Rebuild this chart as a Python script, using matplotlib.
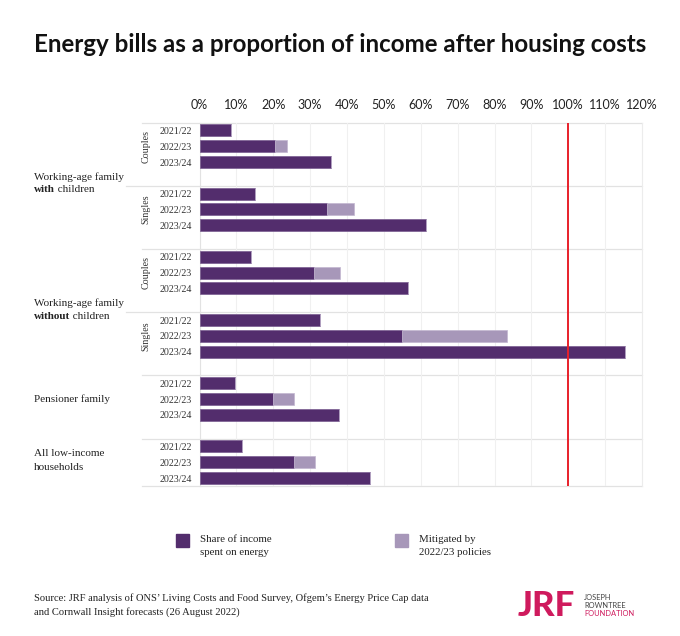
import matplotlib
matplotlib.use("Agg")
import matplotlib.pyplot as plt
from matplotlib.patches import Rectangle
from matplotlib.transforms import blended_transform_factory

# values (% of income after housing costs)
years = ["2021/22", "2022/23", "2023/24"]
block_labels = ["Couples", "Singles", "Couples", "Singles", "", ""]
share = [
    [8.5, 20.6, 35.6],
    [15.0, 34.6, 61.3],
    [14.1, 31.1, 56.5],
    [32.8, 55.0, 115.5],
    [9.7, 19.8, 37.9],
    [11.6, 25.5, 46.3],
]
mitigated = [
    [0, 3.2, 0],
    [0, 7.3, 0],
    [0, 7.1, 0],
    [0, 28.4, 0],
    [0, 5.7, 0],
    [0, 5.9, 0],
]
x_ticks = list(range(0, 121, 10))
tick_labels = [f"{t}%" for t in x_ticks]

DARK = "#532d6d"
LIGHT = "#a797b9"
RED = "#e8202a"
LINE = "#e2e2e2"
MAGENTA = "#cf1a5d"
SERIF = ["Liberation Serif", "DejaVu Serif"]
SANS = ["Lato", "DejaVu Sans"]

W, H = 680, 636
fig = plt.figure(figsize=(W / 100, H / 100), dpi=100)
ax = fig.add_axes([199.5 / W, 1 - 486 / H, 442.5 / W, 363.5 / H])

# bar positions: 4 slots per block, 3 bars + 1 empty
ypos, ylabels, dark_vals, light_vals = [], [], [], []
for b, (vals, mits) in enumerate(zip(share, mitigated)):
    for i, yr in enumerate(years):
        ypos.append(4 * b + i + 0.5)
        ylabels.append(yr)
        dark_vals.append(vals[i])
        light_vals.append(mits[i])

ax.barh(ypos, dark_vals, height=0.76, color=DARK, edgecolor="#7a5c90",
        linewidth=0.5, zorder=3)
ax.barh(ypos, light_vals, left=dark_vals, height=0.76, color=LIGHT,
        edgecolor="#c3b6d0", linewidth=0.5, zorder=3)

ax.axvline(100, color=RED, lw=1.4, zorder=4)

ax.set_xlim(0, 120)
ax.set_ylim(23, 0)
ax.xaxis.tick_top()
ax.set_xticks(x_ticks)
ax.set_xticklabels(tick_labels, family=SANS, fontsize=9, color="#222222")
ax.set_yticks(ypos)
ax.set_yticklabels(ylabels, family=SERIF, fontsize=7.2, color="#333333")
ax.tick_params(axis="both", length=0)
ax.tick_params(axis="x", pad=8)
ax.tick_params(axis="y", pad=5.5)
ax.xaxis.grid(True, color="#f0f0f0", lw=0.8, zorder=0)

for s in ["top", "bottom"]:
    ax.spines[s].set_visible(False)
ax.spines["left"].set_color(LINE)
ax.spines["right"].set_color("#ececec")

# horizontal separators, extending into the label area
yt = ax.get_yaxis_transform()
for y in [0, 4, 8, 12, 16, 20, 23]:
    x0 = -0.166 if y in (4, 12) else -0.13
    ax.plot([x0, 1], [y, y], color=LINE, lw=0.9, transform=yt, clip_on=False,
            zorder=1)

# rotated sub labels
for b, lab in enumerate(block_labels):
    if lab:
        ax.text(-0.121, 4 * b + 1.5, lab, transform=yt, rotation=90,
                ha="center", va="center", family=SERIF, fontsize=7.2,
                color="#333333")

# group labels on the left
lt = blended_transform_factory(fig.transFigure, ax.transData)
lx = 34 / W
cat_kw = dict(family=SERIF, fontsize=8, color="#222222", transform=lt,
              va="center", ha="left")
for yc, bold_word in [(3.85, "with"), (11.85, "without")]:
    ax.text(lx, yc - 0.42, "Working-age family", **cat_kw)
    t = ax.text(lx, yc + 0.42, bold_word, fontweight="bold", **cat_kw)
    ax.annotate(" children", xy=(1, 0), xycoords=t, va="bottom", ha="left",
                family=SERIF, fontsize=8, color="#222222")
ax.text(lx, 17.5, "Pensioner family", **cat_kw)
ax.text(lx, 21.4, "All low-income\nhouseholds", linespacing=1.7, **cat_kw)

# title
fig.text(0.5, 1 - 45 / H, "Energy bills as a proportion of income after housing costs",
         ha="center", va="center", family=SANS, fontweight="bold", fontsize=17.4,
         color="#111111")

# legend
for x, col, txt in [(176, DARK, "Share of income\nspent on energy"),
                    (395, LIGHT, "Mitigated by\n2022/23 policies")]:
    fig.patches.append(Rectangle((x / W, 1 - 547 / H), 13 / W, 13 / H,
                                 transform=fig.transFigure, color=col))
    fig.text((x + 24) / W, 1 - 546 / H, txt, family=SERIF, fontsize=7.8,
             va="center", ha="left", linespacing=1.6, color="#222222")

# source
fig.text(lx, 1 - 605 / H,
         "Source: JRF analysis of ONS\u2019 Living Costs and Food Survey, Ofgem\u2019s Energy Price Cap data\n"
         "and Cornwall Insight forecasts (26 August 2022)",
         family=SERIF, fontsize=7.6, va="center", ha="left", linespacing=1.55,
         color="#222222")

# logo
fig.text(518 / W, 1 - 606 / H, "JRF", family=SANS, fontweight="black",
         fontsize=25, color=MAGENTA, va="center", ha="left")
for i, (word, col) in enumerate([("JOSEPH", "#444444"), ("ROWNTREE", "#444444"),
                                 ("FOUNDATION", MAGENTA)]):
    fig.text(584 / W, 1 - (598 + 8 * i) / H, word, family=SANS, fontsize=5.4,
             color=col, va="center", ha="left")

fig.savefig("out.png", dpi=100, facecolor="white")
